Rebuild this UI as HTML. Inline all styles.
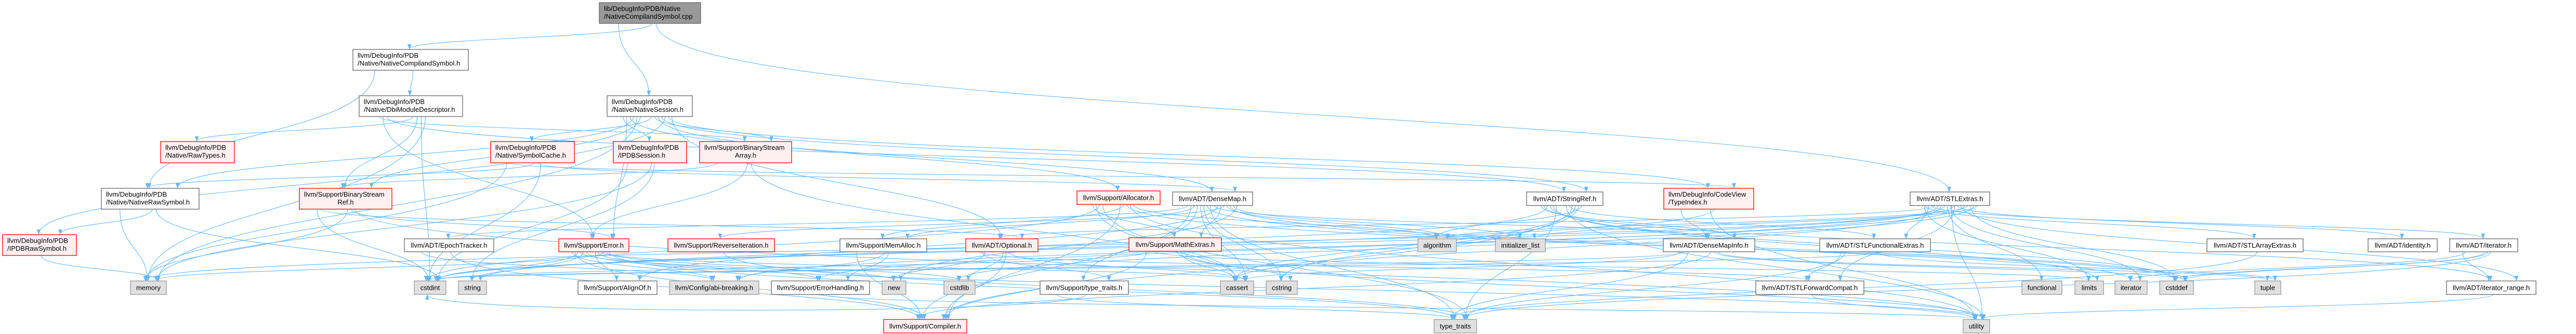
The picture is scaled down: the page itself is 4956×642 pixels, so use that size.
<!DOCTYPE html>
<html><head><meta charset="utf-8"><style>
html,body{margin:0;padding:0;background:#fff;}
svg{display:block;}
text{font-family:"Liberation Sans",Arial,sans-serif;font-size:13px;fill:#000;}
</style></head><body>
<svg id="g" width="4956" height="642" viewBox="0 0 4956 642" xmlns="http://www.w3.org/2000/svg">
<defs><marker id="ah" viewBox="0 0 10 10" refX="9" refY="5" markerWidth="9" markerHeight="9" orient="auto"><path d="M0,1 L10,5 L0,9 z" fill="#63b8ff"/></marker></defs>
<g id="edges"></g><g id="nodes"></g>
</svg>
<script>
// nodes: id, label lines, x0, x1, y0, y1, style (r=red, w=white, g=gray, root)
const nodeIds = ["root","ncs","dbi","raw","nrs","bsr","ipdbraw","epoch","memory","cstdint","string","symcache","ns","ipdbs","bsa","error","reviter","memalloc","optional","alignof","abi","errh","new","cstdlib","compiler","alloc","densemap","stringref","math","algorithm","initlist","tth","cassert","cstring","typetraits","typeindex","stlextras","dmi","stlfe","stlfc","functional","limits","utility","stlae","identity","iterh","iterator","cstddef","tuple","iterrange"];
const nodeLabels = [["lib/DebugInfo/PDB/Native","/NativeCompilandSymbol.cpp"],["llvm/DebugInfo/PDB","/Native/NativeCompilandSymbol.h"],["llvm/DebugInfo/PDB","/Native/DbiModuleDescriptor.h"],["llvm/DebugInfo/PDB","/Native/RawTypes.h"],["llvm/DebugInfo/PDB","/Native/NativeRawSymbol.h"],["llvm/Support/BinaryStream","Ref.h"],["llvm/DebugInfo/PDB","/IPDBRawSymbol.h"],["llvm/ADT/EpochTracker.h"],["memory"],["cstdint"],["string"],["llvm/DebugInfo/PDB","/Native/SymbolCache.h"],["llvm/DebugInfo/PDB","/Native/NativeSession.h"],["llvm/DebugInfo/PDB","/IPDBSession.h"],["llvm/Support/BinaryStream","Array.h"],["llvm/Support/Error.h"],["llvm/Support/ReverseIteration.h"],["llvm/Support/MemAlloc.h"],["llvm/ADT/Optional.h"],["llvm/Support/AlignOf.h"],["llvm/Config/abi-breaking.h"],["llvm/Support/ErrorHandling.h"],["new"],["cstdlib"],["llvm/Support/Compiler.h"],["llvm/Support/Allocator.h"],["llvm/ADT/DenseMap.h"],["llvm/ADT/StringRef.h"],["llvm/Support/MathExtras.h"],["algorithm"],["initializer_list"],["llvm/Support/type_traits.h"],["cassert"],["cstring"],["type_traits"],["llvm/DebugInfo/CodeView","/TypeIndex.h"],["llvm/ADT/STLExtras.h"],["llvm/ADT/DenseMapInfo.h"],["llvm/ADT/STLFunctionalExtras.h"],["llvm/ADT/STLForwardCompat.h"],["functional"],["limits"],["utility"],["llvm/ADT/STLArrayExtras.h"],["llvm/ADT/identity.h"],["llvm/ADT/iterator.h"],["iterator"],["cstddef"],["tuple"],["llvm/ADT/iterator_range.h"]];
const nodeX = [[1153,1348],[679,901],[691,890],[309,451],[195,383],[576,754],[5,147],[778,950],[251,320],[797,858],[882,936],[944,1105],[1168,1332],[1180,1321],[1346,1523],[1075,1210],[1285,1490],[1616,1783],[1858,1997],[1112,1264],[1288,1460],[1484,1673],[1697,1743],[1816,1876],[1700,1860],[2072,2232],[2256,2410],[2937,3084],[2172,2350],[2728,2802],[2877,2973],[2001,2171],[2348,2412],[2436,2496],[2759,2841],[3201,3374],[3675,3828],[3200,3376],[3501,3714],[3378,3586],[3890,3967],[3992,4047],[3777,3828],[4246,4431],[4556,4689],[4713,4844],[4069,4131],[4155,4220],[4338,4388],[4707,4879]];
const nodeY = [[5,45],[95,135],[184,224],[272,313],[362,402],[362,402],[451,491],[459,484],[540,566],[540,566],[540,566],[272,313],[184,224],[272,313],[272,313],[459,484],[459,484],[459,484],[459,484],[540,566],[540,566],[540,566],[540,566],[540,566],[614,640],[367,393],[369,395],[369,395],[457,483],[459,484],[459,484],[540,566],[540,566],[540,566],[614,640],[362,402],[369,395],[459,484],[459,484],[540,566],[540,566],[540,566],[614,640],[459,484],[459,484],[459,484],[540,566],[540,566],[540,566],[540,566]];
const nodeStyle = ["root","w","w","r","w","r","r","w","g","g","g","r","w","r","r","r","r","w","r","w","g","w","g","g","r","r","w","w","r","g","g","w","g","g","g","r","w","w","w","w","g","g","g","w","w","w","g","g","g","w"];
const edgeFrom = ["root","root","root","ncs","ncs","dbi","dbi","dbi","dbi","dbi","dbi","dbi","ns","ns","ns","ns","ns","ns","ns","ns","ns","ns","ns","ns","ns","nrs","nrs","nrs","ipdbraw","symcache","symcache","symcache","symcache","symcache","ipdbs","ipdbs","ipdbs","bsa","bsa","bsa","bsr","bsr","bsr","bsr","bsr","error","error","error","error","error","error","error","error","error","error","error","error","alloc","alloc","alloc","alloc","alloc","alloc","alloc","alloc","alloc","densemap","densemap","densemap","densemap","densemap","densemap","densemap","densemap","densemap","densemap","densemap","densemap","densemap","densemap","densemap","densemap","math","math","math","math","math","math","reviter","memalloc","memalloc","memalloc","optional","optional","optional","optional","optional","optional","errh","epoch","epoch","tth","tth","stringref","stringref","stringref","stringref","stringref","stringref","stringref","stringref","stringref","stringref","stringref","stringref","typeindex","typeindex","typeindex","typeindex","dmi","dmi","dmi","dmi","dmi","dmi","stlextras","stlextras","stlextras","stlextras","stlextras","stlextras","stlextras","stlextras","stlextras","stlextras","stlextras","stlextras","stlextras","stlextras","stlextras","stlextras","stlextras","stlextras","stlextras","stlextras","stlfe","stlfe","stlfe","stlfe","stlfc","stlae","iterh","iterh","iterh","iterh","iterh","iterrange"];
const edgeTo = ["ncs","ns","stlextras","dbi","nrs","raw","bsa","bsr","error","cstdint","stringref","memory","symcache","ipdbs","bsa","error","alloc","densemap","stringref","nrs","ipdbraw","memory","typeindex","bsr","optional","ipdbraw","memory","cstdint","memory","nrs","memory","densemap","typeindex","cstdint","memory","cstdint","string","error","bsr","cassert","memory","cstdint","error","optional","utility","alignof","abi","errh","compiler","cassert","cstdint","memory","new","cstdlib","string","typetraits","utility","compiler","math","memalloc","cassert","cstddef","cstdint","utility","typetraits","algorithm","dmi","epoch","alignof","compiler","math","memalloc","reviter","tth","algorithm","cassert","cstddef","cstring","initlist","iterator","new","typetraits","utility","compiler","cassert","cstdint","cstring","limits","typetraits","abi","compiler","errh","cstdlib","stlfc","compiler","tth","cassert","new","utility","compiler","abi","cstdint","typetraits","utility","dmi","stlfe","iterrange","compiler","algorithm","cassert","cstddef","cstring","limits","string","typetraits","utility","dmi","cinttypes_skip","cstdint","compiler","cassert","cstddef","cstdint","tuple","typetraits","utility","stlae","stlfc","stlfe","identity","iterh","iterrange","optional","abi","errh","algorithm","cassert","cstddef","cstdint","cstdlib","functional","initlist","iterator","limits","memory","tuple","stlfc","cstdint","typetraits","utility","typetraits","cstddef","iterrange","cstddef","iterator","typetraits","utility","utility"];

const svg = document.getElementById('g');
const eg = document.getElementById('edges');
const ng = document.getElementById('nodes');
const NS = "http://www.w3.org/2000/svg";
function idx(id){return nodeIds.indexOf(id);}
function sx(i){return (nodeX[i][0]+nodeX[i][1])/2;}

// edges
const outCount = {}, inCount = {};
for (let k=0;k<edgeFrom.length;k++){
  const a=idx(edgeFrom[k]), b=idx(edgeTo[k]);
  if(a<0||b<0) continue;
  const oi = outCount[a]=(outCount[a]||0)+1;
  const ii = inCount[b]=(inCount[b]||0)+1;
  const wa = nodeX[a][1]-nodeX[a][0], wb = nodeX[b][1]-nodeX[b][0];
  const x1 = nodeX[a][0] + wa*(0.15 + ((oi*0.37)%0.7));
  const y1 = nodeY[a][1];
  const x2 = nodeX[b][0] + wb*(0.2 + ((ii*0.29)%0.6));
  const y2 = nodeY[b][0];
  let d;
  if (y2 > y1+5){
    const dy = (y2-y1);
    d = `M${x1},${y1} C${x1},${y1+dy*0.55} ${x2},${y2-dy*0.45} ${x2},${y2-1}`;
  } else {
    const yb = nodeY[b][1];
    d = `M${x1},${y1} C${x1},${y1+40} ${x2},${yb+40} ${x2},${yb+1}`;
  }
  const p=document.createElementNS(NS,'path');
  p.setAttribute('d',d);
  p.setAttribute('fill','none');
  p.setAttribute('stroke','#63b8ff');
  p.setAttribute('stroke-width','1.1');
  p.setAttribute('marker-end','url(#ah)');
  
  
  eg.appendChild(p);
}
// nodes
const styles = {root:['#999999','#666666'], w:['#ffffff','#666666'], r:['#fff0f0','#ff0000'], g:['#e0e0e0','#999999']};
for (let i=0;i<nodeIds.length;i++){
  const g=document.createElementNS(NS,'g');
  
  
  const [x0,x1]=nodeX[i],[y0,y1]=nodeY[i];
  const st=styles[nodeStyle[i]];
  const r=document.createElementNS(NS,'rect');
  r.setAttribute('x',x0);r.setAttribute('y',y0);
  r.setAttribute('width',x1-x0);r.setAttribute('height',y1-y0);
  r.setAttribute('fill',st[0]);r.setAttribute('stroke',st[1]);r.setAttribute('stroke-width','1.3');
  g.appendChild(r);
  const lines=nodeLabels[i];
  if(lines.length===1){
    const t=document.createElementNS(NS,'text');
    t.setAttribute('x',(x0+x1)/2);t.setAttribute('y',(y0+y1)/2+4.5);
    t.setAttribute('text-anchor','middle');t.textContent=lines[0];
    g.appendChild(t);
  } else {
    const centered = lines[1].length<8;
    for(let j=0;j<2;j++){
      const t=document.createElementNS(NS,'text');
      if(centered && j===1){t.setAttribute('x',(x0+x1)/2);t.setAttribute('text-anchor','middle');}
      else t.setAttribute('x',x0+9);
      t.setAttribute('y',y0+16+j*15);
      t.textContent=lines[j];
      g.appendChild(t);
    }
  }
  ng.appendChild(g);
}
</script>
</body></html>
